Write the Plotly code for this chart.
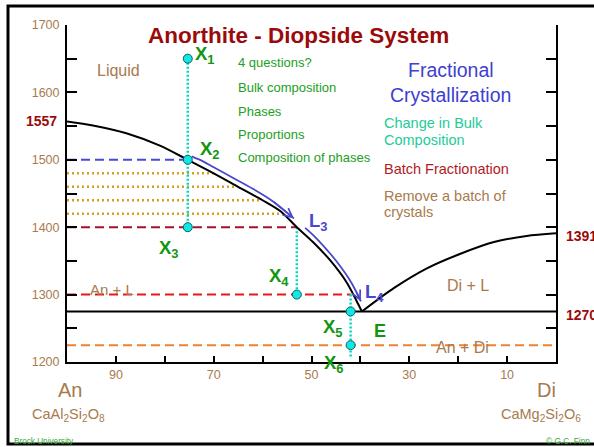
import plotly.graph_objects as go

FONT = "Liberation Sans, Arial, sans-serif"
BROWN = "#a87a4e"
DKRED = "#9b0a0a"
GREEN = "#22a022"
XGREEN = "#129612"
BLUE = "#4848cc"
CYAN = "#00d8bc"

# liquidus, anorthite side (wt% An, T in C)
liq_an_left = [100, 94.7, 87.7, 81, 75.3, 70, 65, 60, 56.4, 53, 49.7, 46.2, 42.8, 40.8, 39.7]
liq_t_left = [1557, 1551, 1539, 1521, 1500, 1480, 1460, 1440, 1424, 1400, 1378, 1351, 1318, 1291, 1275]
# liquidus, diopside side
liq_an_right = [39.7, 33.1, 26.4, 19.4, 12.7, 6, 0]
liq_t_right = [1275, 1310, 1339, 1361, 1378, 1387, 1391]
eutectic_t = 1275

# fractional crystallization path (blue arrows)
path1_an = [74.5, 72, 70, 66, 62, 58, 53.6]
path1_t = [1505, 1497, 1489, 1473, 1457, 1439, 1413]
path2_an = [51.3, 49.2, 46.2, 44, 42.3, 40.9, 39.9]
path2_t = [1399, 1385, 1361, 1341, 1323, 1305, 1290]

# bulk composition points
pt_names = ["1", "2", "3", "4", "5", "6"]
pt_an = [75.3, 75.3, 75.3, 53.0, 42.0, 42.0]
pt_t = [1650, 1500, 1400, 1300, 1275, 1225]

# batch cooling steps (dotted gold lines) and where they hit the liquidus
step_t = [1480, 1460, 1440, 1420]
step_an_end = [70, 65, 60, 55.8]

x_tickvals = [90, 80, 70, 60, 50, 40, 30, 20, 10]
x_ticktext = ["90", "", "70", "", "50", "", "30", "", "10"]
y_tickvals = [1200, 1250, 1300, 1350, 1400, 1450, 1500, 1550, 1600, 1650, 1700]
y_ticktext = ["1200", "", "1300", "", "1400", "", "1500", "", "1600", "", "1700"]

L, R, T, B = 67, 38, 25, 85
W, H = 594, 447


def px(x):
    return (x - L) / (W - L - R)


def py(y):
    return (H - B - y) / (H - T - B)


fig = go.Figure()


def seg(x, y, color, width, dash):
    fig.add_trace(go.Scatter(x=x, y=y, mode="lines", hoverinfo="skip",
                             line=dict(color=color, width=width, dash=dash)))


# horizontal guide lines
seg([100, 0], [1225, 1225], "#f08032", 2, "9px,5px")
gx, gy = [], []
for t, a in zip(step_t, step_an_end):
    gx += [100, a, None]
    gy += [t, t, None]
seg(gx, gy, "#d9a020", 2.5, "2px,3px")
seg([100, pt_an[1]], [1500, 1500], "#4a4ad6", 2, "9px,5px")
seg([100, pt_an[3]], [1400, 1400], "#a8102e", 2, "9px,5px")
seg([100, pt_an[4]], [1300, 1300], "#e81818", 2, "9px,5px")

# vertical bulk composition lines
seg([pt_an[0], pt_an[2], None, pt_an[3], pt_an[3], None, pt_an[4], pt_an[4]],
    [pt_t[0], pt_t[2], None, 1400, 1300, None, 1300, 1206], CYAN, 2.5, "2px,2px")

# phase boundaries
seg([100, 0], [eutectic_t, eutectic_t], "black", 2, "solid")
fig.add_trace(go.Scatter(x=liq_an_left, y=liq_t_left, mode="lines", hoverinfo="skip",
                         line=dict(color="black", width=2, shape="spline", smoothing=0.8)))
fig.add_trace(go.Scatter(x=liq_an_right, y=liq_t_right, mode="lines", hoverinfo="skip",
                         line=dict(color="black", width=2, shape="spline", smoothing=0.8)))

# crystallization path
for pa, pt in ((path1_an, path1_t), (path2_an, path2_t)):
    fig.add_trace(go.Scatter(x=pa, y=pt, mode="lines", hoverinfo="skip",
                             line=dict(color=BLUE, width=1.8, shape="spline")))

fig.add_trace(go.Scatter(x=pt_an, y=pt_t, mode="markers", hoverinfo="skip",
                         marker=dict(size=9, color="#10e8e8", line=dict(color="#106060", width=1))))

ann = []
for pa, pt in ((path1_an, path1_t), (path2_an, path2_t)):
    ann.append(dict(x=pa[-1], y=pt[-1], ax=pa[-2], ay=pt[-2], xref="x", yref="y",
                    axref="x", ayref="y", text="", showarrow=True, arrowhead=5,
                    arrowsize=1.1, arrowwidth=1.6, arrowcolor=BLUE))


def label(x, y, text, size, color, xanchor="center", xref="x", yref="y", bold=False):
    if bold:
        text = "<b>" + text + "</b>"
    ann.append(dict(x=x, y=y, xref=xref, yref=yref, text=text, showarrow=False,
                    xanchor=xanchor, yanchor="middle",
                    font=dict(size=size, color=color, family=FONT)))


# title
label(px(298.5), py(35), "Anorthite - Diopside System", 22.5, DKRED, xref="paper", yref="paper", bold=True)

# point labels (X6 sits on the axis, so it is placed in paper units)
xlab = [(74.3, 1655), (73.2, 1514), (81.6, 1368), (59.2, 1326), (48.1, 1250)]
for (lx, ly), n in zip(xlab, pt_names[:5]):
    label(lx, ly, "X<sub>" + n + "</sub>", 18.5, XGREEN, xanchor="left", bold=True)
label(47.9, py(364), "X<sub>6</sub>", 18.5, XGREEN, xanchor="left", yref="paper", bold=True)
label(37.7, 1246, "E", 18, XGREEN, xanchor="left", bold=True)
label(51.0, 1407, "L<sub>3</sub>", 18.5, BLUE, xanchor="left", bold=True)
label(39.4, 1302, "L<sub>4</sub>", 18.5, BLUE, xanchor="left", bold=True)

# field labels
label(89.5, 1632, "Liquid", 16, BROWN)
label(90.8, 1307, "An + L", 15, BROWN)
label(17.9, 1314, "Di + L", 16, BROWN)
label(19.1, 1221, "An + Di", 16, BROWN)

# questions list
for yy, tx in zip([1644, 1608, 1571, 1537, 1503],
                  ["4 questions?", "Bulk composition", "Phases", "Proportions", "Composition of phases"]):
    label(65.4, yy, tx, 13, GREEN, xanchor="left")

label(21.5, 1633, "Fractional", 19.5, "#4040d0")
label(21.5, 1596, "Crystallization", 19.5, "#4040d0")
label(35.6, 1555, "Change in Bulk", 14.5, "#22cc98", xanchor="left")
label(35.6, 1530, "Composition", 14.5, "#22cc98", xanchor="left")
label(35.6, 1486, "Batch Fractionation", 14.5, "#b01c26", xanchor="left")
label(35.6, 1446, "Remove a batch of", 14.5, BROWN, xanchor="left")
label(35.6, 1423, "crystals", 14.5, BROWN, xanchor="left")

# temperatures off the axes
label(px(59), 1558, "1557", 14, DKRED, xanchor="right", xref="paper", bold=True)
label(px(564), 1387, "1391", 14, DKRED, xanchor="left", xref="paper", bold=True)
label(px(564), 1269, "1270", 14, DKRED, xanchor="left", xref="paper", bold=True)

# end members
label(px(69.5), py(390), "An", 20, BROWN, xref="paper", yref="paper")
label(px(546), py(390), "Di", 20, BROWN, xref="paper", yref="paper")
label(px(68.5), py(415), "CaAl<sub>2</sub>Si<sub>2</sub>O<sub>8</sub>", 14.5, BROWN, xref="paper", yref="paper")
label(px(541), py(415), "CaMg<sub>2</sub>Si<sub>2</sub>O<sub>6</sub>", 14.5, BROWN, xref="paper", yref="paper")
label(px(12), py(441), "Brock University", 8.2, "#33aa33", xanchor="left", xref="paper", yref="paper")
label(px(592), py(441), "© G.C. Finn", 8.3, "#33aa33", xanchor="right", xref="paper", yref="paper")

axis_common = dict(showgrid=False, zeroline=False, showline=True, linecolor="black", linewidth=2,
                   ticks="inside", tickwidth=2, tickcolor="black",
                   tickfont=dict(size=12.5, color=BROWN, family=FONT))

fig.update_layout(
    width=W, height=H,
    margin=dict(l=L, r=R, t=T, b=B),
    paper_bgcolor="white", plot_bgcolor="white",
    showlegend=False,
    font=dict(family=FONT),
    xaxis=dict(range=[100, 0], tickvals=x_tickvals, ticktext=x_ticktext, ticklen=6, **axis_common),
    yaxis=dict(range=[1200, 1700], tickvals=y_tickvals, ticktext=y_ticktext, ticklen=10,
               mirror="ticks", ticklabelstandoff=3, **axis_common),
    annotations=ann,
    shapes=[dict(type="rect", xref="paper", yref="paper", x0=px(8), x1=px(640), y0=py(444), y1=py(6),
                 line=dict(color="black", width=3), layer="below")],
)

# page body has a default margin; drop it so the figure sits at the window corner
fig.write_html("out.html", config={"displayModeBar": False},
               post_script="document.body.style.margin='0';")
